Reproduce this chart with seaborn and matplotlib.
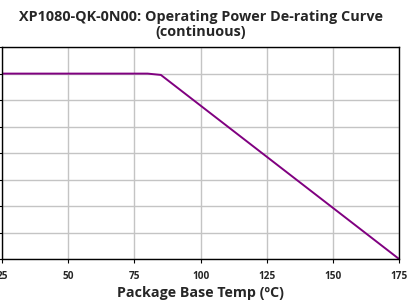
import numpy as np
import pandas as pd
import matplotlib.pyplot as plt
import seaborn as sns

# de-rating curve (y units unlabelled -> grid steps)
temps = [25, 80, 85, 175]
power = [7.0, 7.0, 6.95, 0.0]
x_ticks = [25, 50, 75, 100, 125, 150, 175]
y_ticks = [0, 1, 2, 3, 4, 5, 6, 7, 8]

df = pd.DataFrame({"temp": temps, "power": power})

sns.set_style("white")
plt.rcParams['font.family'] = ['Open Sans', 'DejaVu Sans']

fig = plt.figure(figsize=(4.11, 3.04), dpi=100)
ax = fig.add_axes([0.005, 0.148, 0.966, 0.697])

sns.lineplot(data=df, x="temp", y="power", color="#800080", linewidth=1.4, ax=ax)

ax.set_xlim(25, 175)
ax.set_ylim(0, 8)
ax.set_xticks(x_ticks)
ax.set_yticks(y_ticks)
ax.set_xticklabels([str(t) for t in x_ticks], fontsize=7.2, fontweight='bold')
ax.set_yticklabels([])
ax.grid(True, color="#c4c4c4", linewidth=1)
ax.set_axisbelow(True)
for s in ax.spines.values():
    s.set_color("black")
    s.set_linewidth(1)
ax.tick_params(axis='both', direction='out', length=3, width=0.8, color='black', pad=5.5,
               bottom=True, left=True)

ax.set_xlabel("Package Base Temp (ºC)", fontsize=10.3, fontweight='bold', labelpad=3)
ax.set_ylabel("")
ax.set_title("XP1080-QK-0N00: Operating Power De-rating Curve\n(continuous)",
             fontsize=10.4, fontweight='bold', linespacing=1.05, pad=8)

fig.savefig("out.png", dpi=100)
